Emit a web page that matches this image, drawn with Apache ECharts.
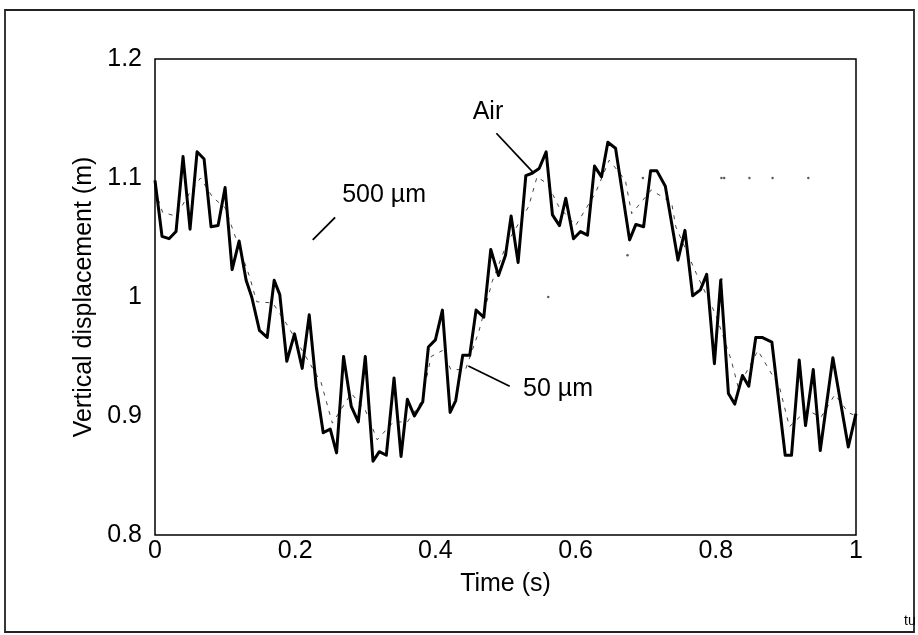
<!DOCTYPE html>
<html>
<head>
<meta charset="utf-8">
<script src="https://cdn.jsdelivr.net/npm/echarts@6/dist/echarts.min.js"></script>
<style>
  html, body { margin: 0; padding: 0; background: #fff; }
  #main { width: 918px; height: 635px; }
</style>
</head>
<body>
<div id="main"></div>
<script>
// Air: thick solid trace
const airTime = [0, 0.01, 0.02, 0.03, 0.04, 0.05, 0.06, 0.07, 0.08, 0.09, 0.1, 0.11, 0.12, 0.13, 0.138, 0.149,
  0.16, 0.17, 0.178, 0.188, 0.199, 0.21, 0.22, 0.23, 0.24, 0.25, 0.259, 0.269, 0.28, 0.29, 0.3, 0.311, 0.32,
  0.33, 0.341, 0.351, 0.36, 0.37, 0.382, 0.39, 0.4, 0.41, 0.421, 0.429, 0.439, 0.449, 0.458, 0.469, 0.479,
  0.49, 0.5, 0.508, 0.518, 0.529, 0.538, 0.548, 0.558, 0.567, 0.577, 0.586, 0.597, 0.607, 0.617, 0.627, 0.637,
  0.646, 0.657, 0.677, 0.686, 0.697, 0.707, 0.716, 0.728, 0.746, 0.756, 0.767, 0.778, 0.787, 0.798, 0.807,
  0.818, 0.827, 0.838, 0.847, 0.857, 0.866, 0.88, 0.899, 0.908, 0.919, 0.928, 0.939, 0.949, 0.967, 0.989, 1];
const airDisp = [1.098, 1.051, 1.049, 1.055, 1.118, 1.057, 1.122, 1.116, 1.059, 1.06, 1.092, 1.023, 1.047, 1.014, 1.0, 0.972,
  0.966, 1.014, 1.002, 0.946, 0.969, 0.94, 0.985, 0.925, 0.886, 0.889, 0.869, 0.95, 0.908, 0.895, 0.95, 0.862, 0.87,
  0.867, 0.932, 0.866, 0.914, 0.9, 0.912, 0.958, 0.964, 0.989, 0.903, 0.913, 0.951, 0.951, 0.989, 0.983, 1.04,
  1.018, 1.035, 1.068, 1.029, 1.102, 1.104, 1.108, 1.122, 1.069, 1.06, 1.083, 1.049, 1.055, 1.052, 1.11, 1.101,
  1.13, 1.125, 1.048, 1.061, 1.059, 1.106, 1.106, 1.093, 1.031, 1.056, 1.001, 1.006, 1.019, 0.944, 1.014,
  0.919, 0.91, 0.934, 0.925, 0.966, 0.966, 0.962, 0.867, 0.867, 0.947, 0.892, 0.939, 0.871, 0.949, 0.874, 0.902];

// 50 µm: thin dashed trace
const fineTime = [0, 0.011, 0.03, 0.05, 0.065, 0.082, 0.1, 0.115, 0.135, 0.145, 0.168, 0.187, 0.21, 0.237, 0.253,
  0.28, 0.3, 0.317, 0.34, 0.36, 0.38, 0.394, 0.41, 0.422, 0.443, 0.462, 0.481, 0.502, 0.533, 0.545, 0.56, 0.576,
  0.6, 0.628, 0.648, 0.671, 0.68, 0.708, 0.737, 0.743, 0.772, 0.8, 0.822, 0.832, 0.86, 0.891, 0.905, 0.93, 0.95,
  0.97, 0.989, 1];
const fineDisp = [1.09, 1.071, 1.068, 1.088, 1.1, 1.084, 1.075, 1.05, 1.017, 0.996, 0.995, 0.978, 0.955, 0.928, 0.894,
  0.919, 0.905, 0.88, 0.895, 0.895, 0.912, 0.95, 0.955, 0.939, 0.939, 0.971, 1.013, 1.045, 1.076, 1.101, 1.095, 1.076,
  1.06, 1.087, 1.115, 1.098, 1.07, 1.09, 1.079, 1.059, 1.02, 0.985, 0.947, 0.924, 0.955, 0.924, 0.891, 0.905, 0.899,
  0.918, 0.903, 0.9];

// 500 µm: only scattered dots survive in the scan
const coarseTime = [0.561, 0.674, 0.696, 0.808, 0.808, 0.812, 0.848, 0.881, 0.932];
const coarseDisp = [1.0, 1.035, 1.1, 1.015, 1.1, 1.1, 1.1, 1.1, 1.1];

const xTicks = [0, 0.2, 0.4, 0.6, 0.8, 1];
const yTicks = [0.8, 0.9, 1, 1.1, 1.2];

// annotation labels and leader lines, in data units
const notes = [
  { text: 'Air', at: [0.475, 1.1555], align: 'center', line: [[0.487, 1.1376], [0.539, 1.105]] },
  { text: '500 µm', at: [0.267, 1.0857], align: 'left', line: [[0.257, 1.067], [0.225, 1.048]] },
  { text: '50 µm', at: [0.525, 0.9227], align: 'left', line: [[0.447, 0.942], [0.506, 0.925]] }
];

const pairs = (xs, ys) => xs.map((x, i) => [x, ys[i]]);
const font = 'Liberation Sans, Arial, sans-serif';
const fs = 25;

var chart = echarts.init(document.getElementById('main'));

var option = {
  backgroundColor: '#fff',
  animation: false,
  grid: {
    left: 155, right: 62, top: 59, bottom: 100,
    show: true, borderColor: '#000', borderWidth: 1.5, backgroundColor: 'transparent'
  },
  xAxis: {
    type: 'value', min: xTicks[0], max: xTicks[xTicks.length - 1], interval: 0.2,
    name: 'Time (s)', nameLocation: 'middle', nameGap: 37,
    nameTextStyle: { fontFamily: font, fontSize: fs, color: '#000' },
    axisLine: { show: false }, axisTick: { show: false }, splitLine: { show: false },
    axisLabel: { fontFamily: font, fontSize: fs, color: '#000', margin: 4, formatter: v => String(+v.toFixed(1)) }
  },
  yAxis: {
    type: 'value', min: yTicks[0], max: yTicks[yTicks.length - 1], interval: 0.1,
    name: 'Vertical displacement (m)', nameLocation: 'middle', nameGap: 56,
    nameTextStyle: { fontFamily: font, fontSize: fs, color: '#000' },
    axisLine: { show: false }, axisTick: { show: false }, splitLine: { show: false },
    axisLabel: { fontFamily: font, fontSize: fs, color: '#000', margin: 13, formatter: v => String(+v.toFixed(1)) }
  },
  series: [
    {
      name: '500 µm', type: 'scatter', data: pairs(coarseTime, coarseDisp),
      symbolSize: 2.5, itemStyle: { color: '#333' }, silent: true, z: 1
    },
    {
      name: '50 µm', type: 'line', data: pairs(fineTime, fineDisp), symbol: 'none',
      lineStyle: { color: '#444', width: 1, type: [4, 6] }, silent: true, z: 2
    },
    {
      name: 'Air', type: 'line', data: pairs(airTime, airDisp), symbol: 'none',
      lineStyle: { color: '#000', width: 3, join: 'round' }, silent: true, z: 3
    }
  ].concat(notes.map(n => ({
    type: 'line', data: n.line, symbol: 'none', silent: true, z: 4,
    lineStyle: { color: '#000', width: 1.8 }
  })))
};

chart.setOption(option);

// frame of the scanned page plus annotation texts
var graphics = [
  { type: 'rect', shape: { x: 5, y: 10, width: 909, height: 622 }, style: { fill: 'none', stroke: '#222', lineWidth: 1.8 }, silent: true },
  { type: 'text', left: 904, top: 614, style: { text: 'tu', fontFamily: font, fontSize: 14, fill: '#000' }, silent: true }
];
notes.forEach(n => {
  var p = chart.convertToPixel({ gridIndex: 0 }, n.at);
  graphics.push({
    type: 'text', x: p[0], y: p[1], silent: true,
    style: { text: n.text, fontFamily: font, fontSize: fs, fill: '#000', align: n.align, verticalAlign: 'middle' }
  });
});
chart.setOption({ graphic: graphics });
</script>
</body>
</html>
